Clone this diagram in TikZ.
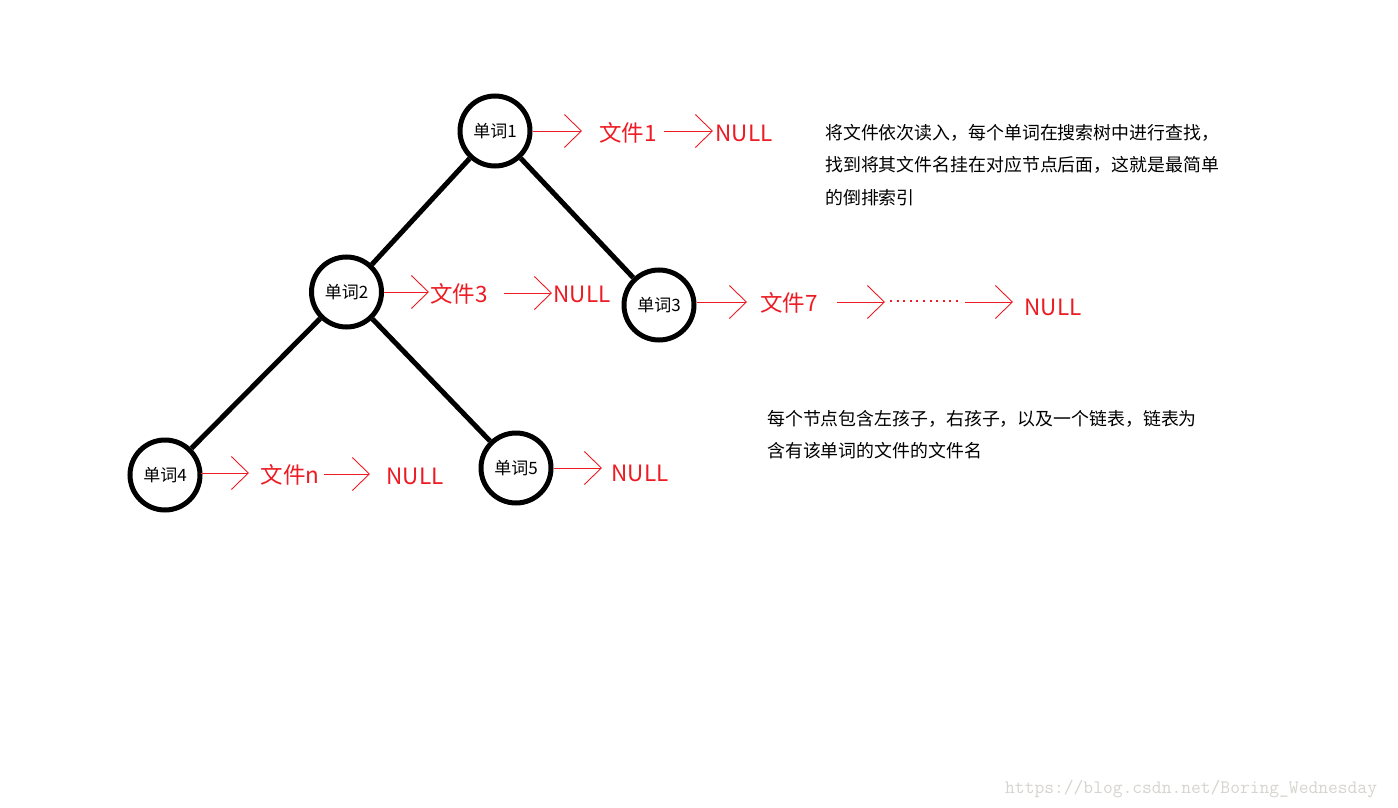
\documentclass[tikz,border=0pt]{standalone}
\usepackage{fontspec}
\setmainfont{Noto Sans CJK SC}
\usetikzlibrary{arrows.meta}
\definecolor{myred}{RGB}{237,28,36}
\definecolor{wmgray}{RGB}{214,212,206}
\begin{document}
\begin{tikzpicture}[x=1pt,y=-1pt,
  word/.style={circle,draw=black,line width=5pt,minimum size=70pt,inner sep=0pt,
    font=\fontsize{17}{17}\selectfont},
  edge/.style={draw=black,line width=5pt},
  rtext/.style={text=myred,inner sep=0pt,font=\fontsize{22.5}{22.5}\selectfont},
  arr/.style={draw=myred,line width=0.9pt,-{Straight Barb[length=17pt,width=33pt]}},
  dots/.style={draw=myred,line width=2pt,dash pattern=on 2pt off 4.6pt},
  note/.style={anchor=base west,inner sep=0pt,align=left,font=\fontsize{17.9}{32.5}\selectfont}]
\fill[white] (0,0) rectangle (1398,808);
\useasboundingbox (0,0) rectangle (1398,808);

% tree nodes
\node[word] (n1) at (495,131) {单词1};
\node[word] (n2) at (346.5,292) {单词2};
\node[word] (n3) at (659,305) {单词3};
\node[word] (n4) at (165,475) {单词4};
\node[word] (n5) at (516,468) {单词5};

\draw[edge] (n1) -- (n2);
\draw[edge] (n1) -- (n3);
\draw[edge] (n2) -- (n4);
\draw[edge] (n2) -- (n5);

% list of word 1
\node[rtext] (f1) at (628,133) {文件1};
\node[rtext] (u1) at (744,133) {NULL};
\coordinate (a1e) at (582,131);
\coordinate (a2s) at (664,131);
\coordinate (a2e) at (713,131);
\draw[arr] (n1.east) -- (a1e);
\draw[arr] (a2s) -- (a2e);

% list of word 2
\node[rtext] (f3) at (459,294) {文件3};
\node[rtext] (u2) at (582,294) {NULL};
\coordinate (b1e) at (429,292);
\coordinate (b2s) at (504,293);
\coordinate (b2e) at (552,293);
\draw[arr] (n2.east) -- (b1e);
\draw[arr] (b2s) -- (b2e);

% list of word 3
\node[rtext] (f7) at (789,303) {文件7};
\node[rtext] (u3) at (1053,307) {NULL};
\coordinate (c1s) at (697,302);
\coordinate (c1e) at (747,302);
\coordinate (c2s) at (837,302);
\coordinate (c2e) at (885,302);
\coordinate (d1s) at (890,301);
\coordinate (d1e) at (962,301);
\coordinate (c3s) at (965,302);
\coordinate (c3e) at (1013,302);
\draw[arr] (c1s) -- (c1e);
\draw[arr] (c2s) -- (c2e);
\draw[dots] (d1s) -- (d1e);
\draw[arr] (c3s) -- (c3e);

% list of word 4
\node[rtext] (fn) at (290,475) {文件n};
\node[rtext] (u4) at (415,476) {NULL};
\coordinate (e1s) at (201,473);
\coordinate (e1e) at (249,473);
\coordinate (e2s) at (324,474);
\coordinate (e2e) at (370,474);
\draw[arr] (e1s) -- (e1e);
\draw[arr] (e2s) -- (e2e);

% list of word 5
\node[rtext] (u5) at (640,473) {NULL};
\coordinate (g1e) at (602,468);
\draw[arr] (n5.east) -- (g1e);

% notes
\node[note] (t1) at (825,204) {将文件依次读入，每个单词在搜索树中进行查找，\\找到将其文件名挂在对应节点后面，这就是最简单\\的倒排索引};
\node[note] (t2) at (767,457.5) {每个节点包含左孩子，右孩子，以及一个链表，链表为\\含有该单词的文件的文件名};

% watermark
\node[anchor=west,inner sep=0pt,text=wmgray,font=\fontsize{19}{19}\ttfamily] (wm) at (1005,789) {https://blog.csdn.net/Boring\_Wednesday};
\end{tikzpicture}
\end{document}
